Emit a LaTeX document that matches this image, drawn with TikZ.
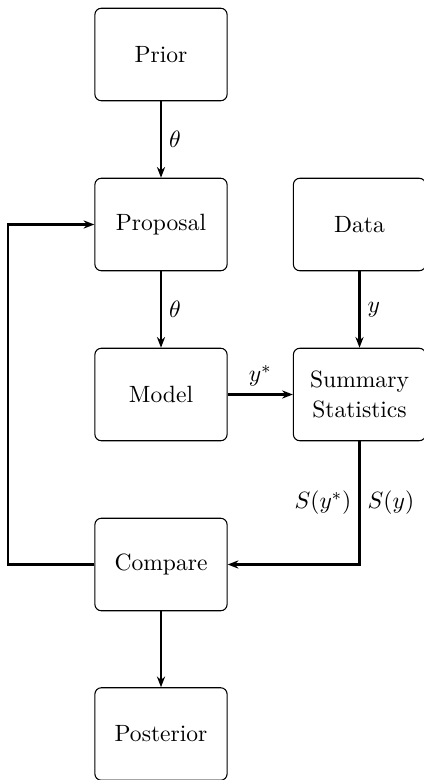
\documentclass[tikz,border=0pt]{standalone}
\usetikzlibrary{arrows.meta}
\begin{document}
\begin{tikzpicture}[x=0.465pt,y=-0.465pt,
  blk/.style={draw, line width=0.5pt, rounded corners=3pt, minimum width=61.5pt, minimum height=43pt, align=center, font=\fontsize{10.95}{13.6}\selectfont, inner sep=2pt},
  conn/.style={line width=0.95pt, -{Stealth[length=5pt,width=3.8pt]}},
  lbl/.style={font=\fontsize{10.95}{13.6}\selectfont}]
\useasboundingbox (0,0) rectangle (423,780);
\node[blk] (prior) at (161,54.5) {Prior};
\node[blk] (prop) at (161,224.5) {Proposal};
\node[blk] (data) at (359.5,224.5) {Data};
\node[blk] (model) at (161,394.5) {Model};
\node[blk] (sum) at (359.5,394.5) {Summary\\Statistics};
\node[blk] (comp) at (161,564.5) {Compare};
\node[blk] (post) at (161,734) {Posterior};
\coordinate (c1) at (8,564.5);
\coordinate (c2) at (8,224.5);
\coordinate (c3) at (359.5,564.5);
\draw[conn] (prior) -- node[lbl, right] {$\theta$} (prop);
\draw[conn] (prop) -- node[lbl, right] {$\theta$} (model);
\draw[conn] (data) -- node[lbl, right] {$y$} (sum);
\draw[conn] (model) -- node[lbl, above] {$y^*$} (sum);
\draw[conn] (sum) -- node[lbl, left] {$S(y^*)$} node[lbl, right] {$S(y)$} (c3) -- (comp);
\draw[conn] (comp) -- (c1) -- (c2) -- (prop);
\draw[conn] (comp) -- (post);
\end{tikzpicture}
\end{document}
